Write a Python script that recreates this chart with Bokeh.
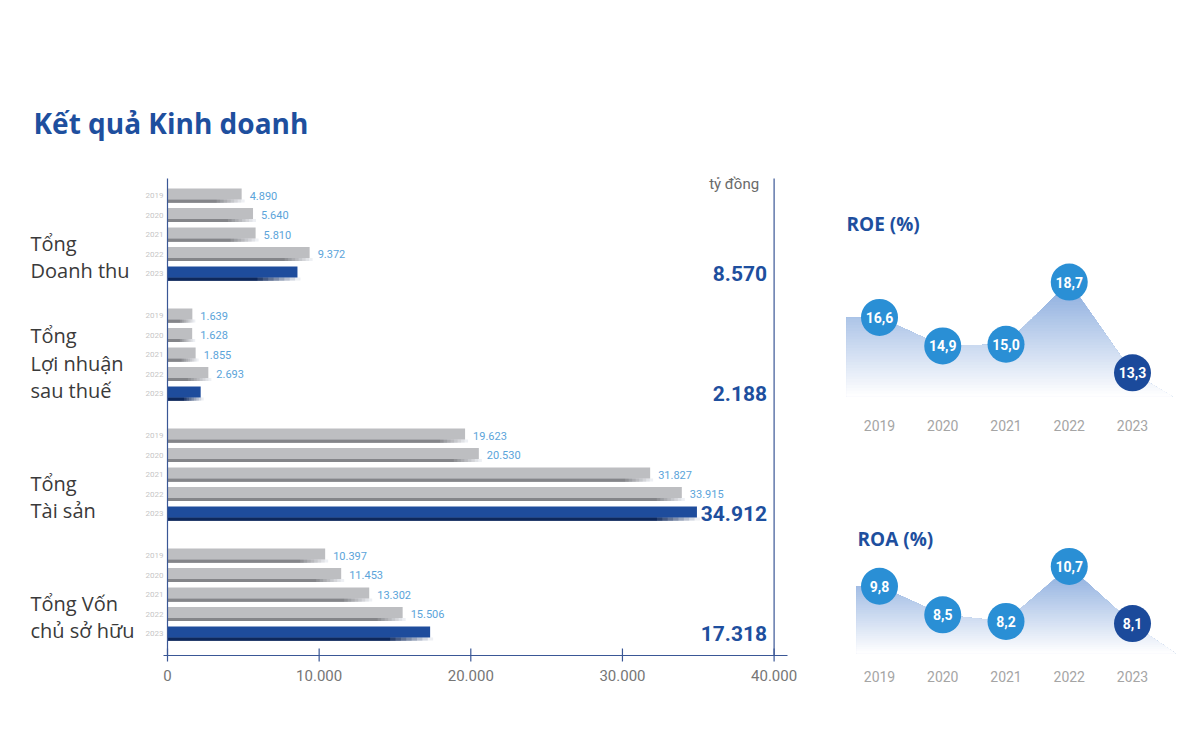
import numpy as np
from bokeh.plotting import figure
from bokeh.models import Range1d
from bokeh.core.properties import value
from bokeh.embed import file_html
from bokeh.resources import INLINE

# ---------------- data ----------------
title_text = "Kết quả Kinh doanh"
unit_text = "tỷ đồng"
years = [2019, 2020, 2021, 2022, 2023]
year_labels = ["2019", "2020", "2021", "2022", "2023"]
metric_labels = [
    ["Tổng", "Doanh thu"],
    ["Tổng", "Lợi nhuận", "sau thuế"],
    ["Tổng", "Tài sản"],
    ["Tổng Vốn", "chủ sở hữu"],
]
revenue = [4890, 5640, 5810, 9372, 8570]
profit_after_tax = [1639, 1628, 1855, 2693, 2188]
total_assets = [19623, 20530, 31827, 33915, 34912]
equity = [10397, 11453, 13302, 15506, 17318]
x_ticks = [0, 10000, 20000, 30000, 40000]
x_tick_labels = ["0", "10.000", "20.000", "30.000", "40.000"]
roe_title = "ROE (%)"
roa_title = "ROA (%)"
roe = [16.6, 14.9, 15.0, 18.7, 13.3]
roa = [9.8, 8.5, 8.2, 10.7, 8.1]

# ---------------- layout helpers (pixel -> data, for placement only) ----------------
W, H = 1179, 716
PX_L, PX_T = 0, 0
BAR_X0_PX, BAR_PPU = 167.0, 606.6 / 40000.0
ROW0_PX, ROW_PX = 195.0, 19.5
GROUP_STEP = 120.0 / ROW_PX


def bx(px):
    return (px - BAR_X0_PX) / BAR_PPU


def by(px):
    return (px - ROW0_PX) / ROW_PX


def yx(px):
    return years[0] + (px - 879.0) / 63.25


def roe_y(px):
    return 15.7 + (332.0 - px) / 16.8


def roa_y(px):
    return 9.06 + (602.0 - px) / 22.0


def fmt_int(v):
    return f"{v:,}".replace(",", ".")


def fmt_dec(v):
    return f"{v:.1f}".replace(".", ",")


def mix(c_a, c_b, t):
    c = [int(round(a + (b - a) * t)) for a, b in zip(c_a, c_b)]
    return "#%02x%02x%02x" % tuple(c)


BLUE = "#1E4F9E"
GRAY_BAR = "#BDBEC1"
GRAY_STRIPE = (132, 133, 137)
BLUE_BAR = "#1E4C9C"
BLUE_STRIPE = (14, 40, 92)
AXIS_COL = "#3A5796"

p = figure(
    width=W, height=H,
    x_range=Range1d(bx(PX_L), bx(PX_L + W)),
    y_range=Range1d(by(PX_T + H), by(PX_T)),
    x_axis_location=None, y_axis_location=None,
    output_backend="svg", toolbar_location=None, min_border=0,
)
p.outline_line_color = None
p.background_fill_color = "white"
p.border_fill_color = "white"
p.xgrid.grid_line_color = None
p.ygrid.grid_line_color = None
p.extra_x_ranges = {"yr": Range1d(yx(PX_L), yx(PX_L + W))}
p.extra_y_ranges = {
    "roe": Range1d(roe_y(PX_T + H), roe_y(PX_T)),
    "roa": Range1d(roa_y(PX_T + H), roa_y(PX_T)),
}

# ---------------- bar chart ----------------
series = [revenue, profit_after_tax, total_assets, equity]
MAIN_H = 11 / ROW_PX
STRIPE_H = 3 / ROW_PX
for g, s in enumerate(series):
    pos = [g * GROUP_STEP + i for i in range(len(s))]
    last = len(s) - 1
    for i, v in enumerate(s):
        is_last = i == last
        main_col = BLUE_BAR if is_last else GRAY_BAR
        stripe_col = BLUE_STRIPE if is_last else GRAY_STRIPE
        fade = min((40 if is_last else 25) / BAR_PPU, v * 0.5)
        extra = 3 / BAR_PPU
        nseg = 8
        # painter's gradient: light & long first, dark & short last
        for k in range(nseg, -1, -1):
            r = v - fade + (fade + extra) * k / nseg
            col = mix(stripe_col, (238, 240, 244), k / nseg)
            p.hbar(y=[pos[i] + 5.5 / ROW_PX], left=[0], right=[r], height=STRIPE_H,
                   fill_color=col, line_color=None)
        p.hbar(y=[pos[i] - 1.5 / ROW_PX], left=[0], right=[v], height=MAIN_H,
               fill_color=main_col, line_color=None)
    # value labels for earlier years
    p.text(x=s[:last], y=pos[:last], text=[fmt_int(v) for v in s[:last]],
           x_offset=8, text_align="left", text_baseline="middle",
           text_font=value("Roboto"), text_font_size="11px", text_color="#5BA4DA")
    # year labels
    p.text(x=[0] * len(s), y=pos, text=year_labels, x_offset=-4,
           text_align="right", text_baseline="middle",
           text_font=value("Roboto"), text_font_size="8px", text_color="#C6C6C6")
    # latest value, big
    p.text(x=[x_ticks[-1]], y=[pos[last]], text=[fmt_int(s[last])], x_offset=-7,
           text_align="right", text_baseline="middle",
           text_font=value("Roboto"), text_font_style="bold", text_font_size="21px",
           text_color=BLUE)
    # category label
    lines = metric_labels[g]
    n = len(lines)
    ly = [pos[last] - 3 / ROW_PX - (n - 1 - j) * 27.5 / ROW_PX for j in range(n)]
    p.text(x=[bx(30)] * n, y=ly, text=lines, text_align="left", text_baseline="middle",
           text_font=value("Open Sans"), text_font_size="20px", text_color="#3A3A3A")

# axis lines
p.segment(x0=[0, x_ticks[-1]], y0=[by(178)] * 2, x1=[0, x_ticks[-1]], y1=[by(655)] * 2,
          line_color=AXIS_COL, line_width=1.2)
p.segment(x0=[bx(163)], y0=[by(655)], x1=[bx(787)], y1=[by(655)],
          line_color=AXIS_COL, line_width=1.2)
p.segment(x0=x_ticks, y0=[by(648)] * len(x_ticks), x1=x_ticks, y1=[by(661)] * len(x_ticks),
          line_color=AXIS_COL, line_width=1.2)
p.text(x=x_ticks, y=[by(675)] * len(x_ticks), text=x_tick_labels,
       text_align="center", text_baseline="middle",
       text_font=value("Roboto"), text_font_size="15px", text_color="#767676")
p.text(x=[x_ticks[-1]], y=[by(183)], text=[unit_text], x_offset=-15,
       text_align="right", text_baseline="middle",
       text_font=value("Roboto"), text_font_size="15px", text_color="#6A6A6A")

# title
p.text(x=[bx(33)], y=[by(122)], text=[title_text], text_align="left", text_baseline="middle",
       text_font=value("Open Sans"), text_font_style="bold", text_font_size="28px",
       text_color=BLUE)


# ---------------- ROE / ROA ----------------
def gradient_area(xs, ys, base, yname, top_rgb=(136, 170, 221), n=40):
    xd = np.linspace(xs[0], xs[-1], 900)
    fd = np.interp(xd, xs, ys)
    top = max(ys)
    edges = np.linspace(base, top, n + 1)
    for k in range(n - 1, -1, -1):
        t = (k + 0.5) / n
        col = mix((255, 255, 255), top_rgb, t)
        y2 = np.minimum(fd, edges[k + 1])
        p.varea(x=xd, y1=np.full_like(xd, base), y2=y2, fill_color=col,
                x_range_name="yr", y_range_name=yname)


def mini_chart(vals, yname, conv, title, title_px, left_px, right_px, base_px, year_px):
    base = conv(base_px)
    xs = [yx(left_px)] + years + [yx(right_px)]
    ys = [vals[0]] + vals + [base]
    gradient_area(xs, ys, base, yname)
    cols = ["#2A8FD5"] * (len(vals) - 1) + ["#1B4A9B"]
    p.scatter(x=years, y=vals, size=37, marker="circle", fill_color=cols, line_color=None,
              x_range_name="yr", y_range_name=yname)
    p.text(x=years, y=vals, text=[fmt_dec(v) for v in vals],
           text_align="center", text_baseline="middle",
           text_font=value("Roboto"), text_font_style="bold", text_font_size="14px",
           text_color="white", x_range_name="yr", y_range_name=yname)
    p.text(x=years, y=[conv(year_px)] * len(years), text=year_labels,
           text_align="center", text_baseline="middle",
           text_font=value("Roboto"), text_font_size="14px", text_color="#A5A5A5",
           x_range_name="yr", y_range_name=yname)
    p.text(x=[yx(title_px[0])], y=[conv(title_px[1])], text=[title],
           text_align="left", text_baseline="middle",
           text_font=value("Open Sans"), text_font_style="bold", text_font_size="19px",
           text_color=BLUE, x_range_name="yr", y_range_name=yname)


mini_chart(roe, "roe", roe_y, roe_title, (846, 223), 846, 1172, 396, 425)
mini_chart(roa, "roa", roa_y, roa_title, (857, 538), 856, 1175, 653, 676)

open("out.html", "w").write(file_html(p, INLINE))
